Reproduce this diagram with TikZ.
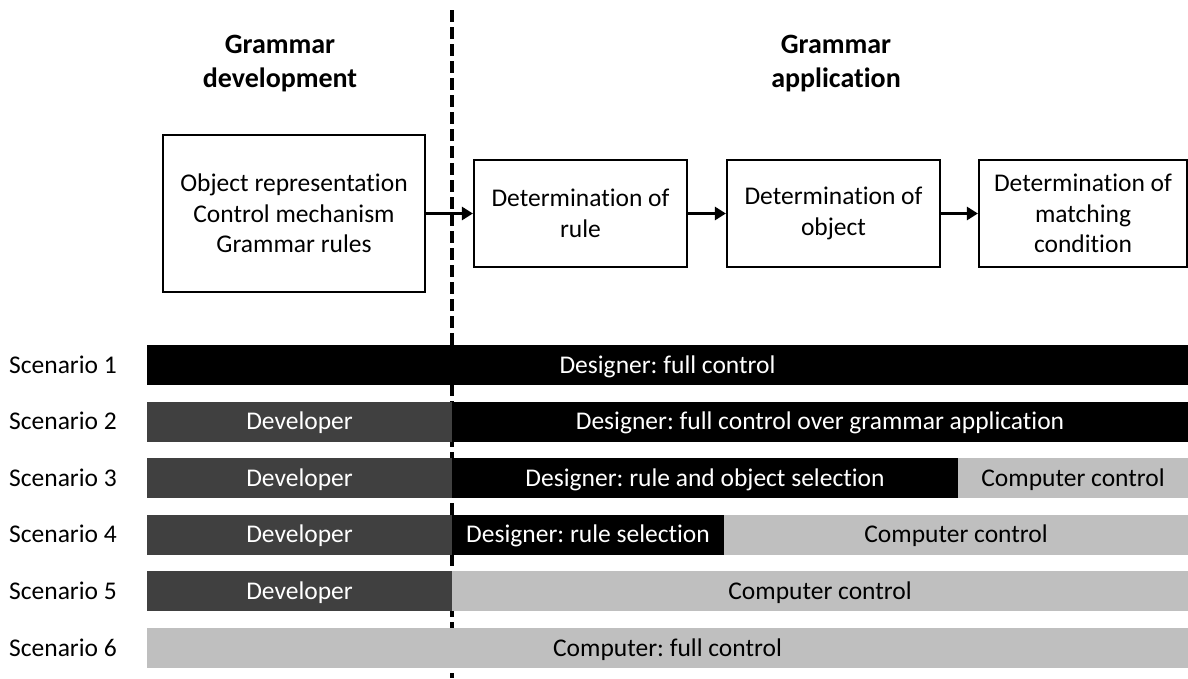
\documentclass[tikz,border=0pt]{standalone}
\usepackage{fontspec}
\setmainfont[Ligatures=NoCommon]{Carlito}
\usetikzlibrary{arrows.meta}
\definecolor{devgray}{RGB}{64,64,64}
\definecolor{compgray}{RGB}{191,191,191}
\frenchspacing
\begin{document}
\begin{tikzpicture}[x=1pt,y=-1pt,
  txt/.style={font=\fontsize{25.5}{30.5}\selectfont},
  box/.style={txt, draw, line width=2.2pt, align=center, inner sep=0pt},
  head/.style={font=\fontsize{28}{34}\selectfont\bfseries, align=center},
  arr/.style={line width=3.5pt, -{Triangle[length=11pt,width=13pt]}},
  bar/.style={txt, minimum height=40pt, inner sep=0pt, outer sep=0pt, text height=16pt, text depth=0pt},
  devbar/.style={bar, fill=devgray, text=white},
  desbar/.style={bar, fill=black, text=white},
  compbar/.style={bar, fill=compgray, text=black},
  lbl/.style={txt, anchor=west, inner sep=0pt, text height=16pt, text depth=0pt},
  divider/.style={line width=3.3pt, dash pattern=on 12pt off 5pt}]
\useasboundingbox (0,0) rectangle (1188,678);

% divider (behind bars)
\coordinate (divtop) at (452,10);
\coordinate (divbot) at (452,678);
\draw[divider] (divtop) -- (divbot);

% headings
\node[head] (hdev) at (280,64) {Grammar\\development};
\node[head] (happ) at (836,64) {Grammar\\application};

% process boxes
\node[box, minimum width=262pt, minimum height=157pt] (dev) at (294,213.5)
  {Object representation\\Control mechanism\\Grammar rules};
\node[box, minimum width=213pt, minimum height=107pt] (rule) at (580.5,213.5)
  {Determination of\\rule};
\node[box, minimum width=213pt, minimum height=107pt] (obj) at (833.5,213.5)
  {Determination of\\object};
\node[box, minimum width=208pt, minimum height=107pt] (cond) at (1083,213.5)
  {Determination of\\matching\\condition};

\draw[arr] (dev.east) -- (rule.west);
\draw[arr] (rule.east) -- (obj.west);
\draw[arr] (obj.east) -- (cond.west);

% scenario labels
\node[lbl] (s1) at (9,365) {Scenario 1};
\node[lbl] (s2) at (9,421.6) {Scenario 2};
\node[lbl] (s3) at (9,478.2) {Scenario 3};
\node[lbl] (s4) at (9,534.8) {Scenario 4};
\node[lbl] (s5) at (9,591.4) {Scenario 5};
\node[lbl] (s6) at (9,648) {Scenario 6};

% bars
\node[desbar, minimum width=1041pt] (b1) at (667.5,365) {Designer: full control};

\node[devbar, minimum width=305pt] (b2a) at (299.5,421.6) {Developer};
\node[desbar, minimum width=736pt] (b2b) at (820,421.6) {Designer: full control over grammar application};

\node[devbar, minimum width=305pt] (b3a) at (299.5,478.2) {Developer};
\node[desbar, minimum width=506pt] (b3b) at (705,478.2) {Designer: rule and object selection};
\node[compbar, minimum width=230pt] (b3c) at (1073,478.2) {Computer control};

\node[devbar, minimum width=305pt] (b4a) at (299.5,534.8) {Developer};
\node[desbar, minimum width=272pt] (b4b) at (588,534.8) {Designer: rule selection};
\node[compbar, minimum width=464pt] (b4c) at (956,534.8) {Computer control};

\node[devbar, minimum width=305pt] (b5a) at (299.5,591.4) {Developer};
\node[compbar, minimum width=736pt] (b5b) at (820,591.4) {Computer control};

\node[compbar, minimum width=1041pt] (b6) at (667.5,648) {Computer: full control};
\end{tikzpicture}
\end{document}
